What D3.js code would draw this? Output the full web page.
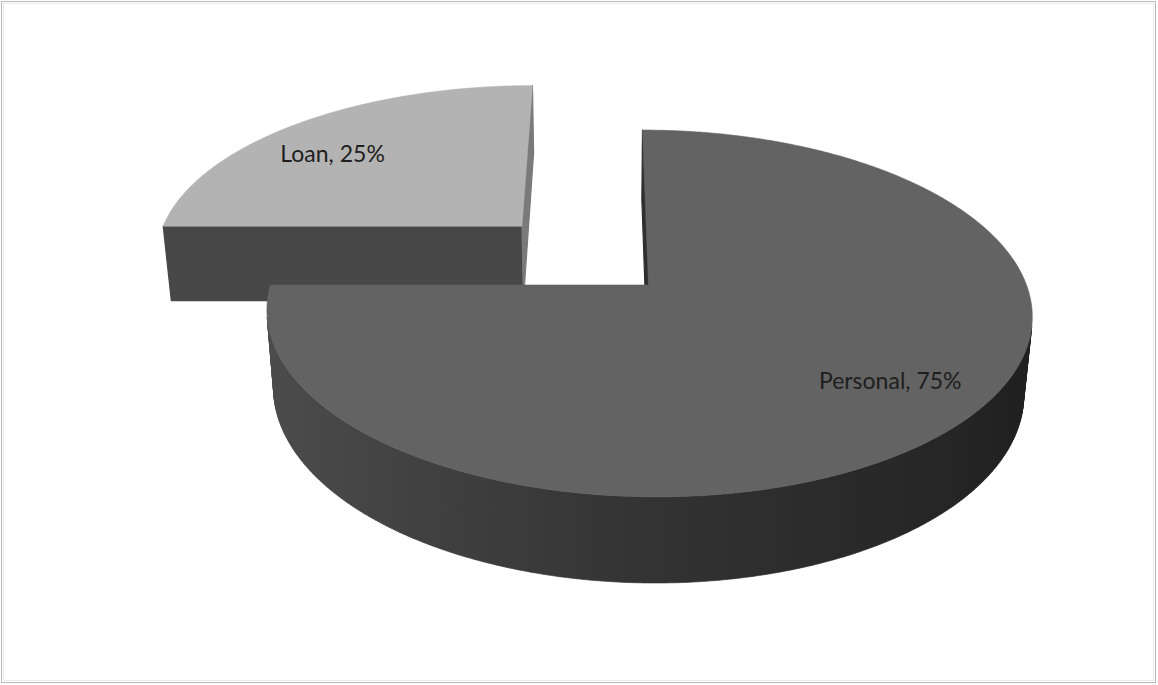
<!DOCTYPE html>
<html>
<head>
<meta charset="utf-8">
<script src="https://cdn.jsdelivr.net/npm/d3@7"></script>
<style>
  html, body { margin: 0; padding: 0; background: #ffffff; }
  svg { display: block; }
</style>
</head>
<body>
<svg id="chart" width="1158" height="685"></svg>
<script>
// Share of accounts by type
const categories = ["Personal", "Loan"];
const values = [75, 25];
const explodedCategory = "Loan";

// Look of the 3-D pie
const topColors = { Personal: "#636363", Loan: "#b3b3b3" };
const startFaceColors = { Personal: "#2f2f2f", Loan: "#474747" };
const endFaceColors = { Personal: "#2f2f2f", Loan: "#7a7a7a" };
const W = 1158, H = 685;

// Simple pinhole camera looking down on a unit-radius disc
const cam = {
  cx: 648.5, cy: 285,         // screen position of the disc centre
  D: 5.68,                    // distance of the camera (in radii)
  phi: Math.asin(0.4735),     // downward pitch
  Cx: -0.118,                 // small sideways offset of the camera
  rx: 378                     // screen half-width of the disc at its centre depth
};
cam.F = cam.rx * cam.D;
cam.cx0 = cam.cx + cam.rx * cam.Cx;
const thickness = 0.2364;
const explodeFraction = 0.49;
const sinP = Math.sin(cam.phi), cosP = Math.cos(cam.phi);
const camPos = [cam.Cx, cam.D * sinP, -cam.D * cosP];

function project(X, Y, Z) {
  const zc = cam.D - Y * sinP + Z * cosP;
  const yc = Y * cosP + Z * sinP;
  return [cam.cx0 + cam.F * (X - cam.Cx) / zc, cam.cy - cam.F * yc / zc];
}

const svg = d3.select("#chart");
const defs = svg.append("defs");

// Horizontal shading of the curved rim
const wallGrad = defs.append("linearGradient")
  .attr("id", "wallGrad").attr("gradientUnits", "userSpaceOnUse")
  .attr("x1", 265).attr("x2", 1035).attr("y1", 0).attr("y2", 0);
[[0, "#4c4c4c"], [0.2, "#414141"], [0.45, "#353535"], [0.7, "#2c2c2c"], [0.9, "#252525"], [1, "#1f1f1f"]]
  .forEach(([o, c]) => wallGrad.append("stop").attr("offset", o).attr("stop-color", c));

// Chart frame
svg.append("rect").attr("x", 1.5).attr("y", 1.5).attr("width", W - 4).attr("height", H - 4)
  .attr("fill", "#ffffff").attr("stroke", "#b9b9b9").attr("stroke-width", 1);
svg.append("rect").attr("x", 3.5).attr("y", 3.5).attr("width", W - 8).attr("height", H - 8)
  .attr("fill", "none").attr("stroke", "#ececec").attr("stroke-width", 1);

const pie = d3.pie().sort(null).startAngle(0).endAngle(2 * Math.PI);
const arcs = pie(values).map((a, i) => {
  const name = categories[i];
  const mid = (a.startAngle + a.endAngle) / 2;
  const e = name === explodedCategory ? explodeFraction : 0;
  return { ...a, name, mid, ox: e * Math.sin(mid), oz: e * Math.cos(mid) };
});

// Far slices first
arcs.sort((a, b) => b.oz - a.oz);

const line = d3.line().curve(d3.curveLinearClosed);
const pathFromPts = pts => line(pts);

function rimPoint(s, t, Y) {
  return project(s.ox + Math.sin(t), Y, s.oz + Math.cos(t));
}

function visible(nx, nz, P) {
  return nx * (camPos[0] - P[0]) + nz * (camPos[2] - P[2]) > 0;
}

arcs.forEach(s => {
  const g = svg.append("g").attr("class", "slice-" + s.name);
  const a0 = s.startAngle, a1 = s.endAngle;
  const steps = Math.max(8, Math.ceil((a1 - a0) / (Math.PI / 360)));

  // Radial side faces
  [[a0, -Math.cos(a0), Math.sin(a0), startFaceColors[s.name]],
   [a1, Math.cos(a1), -Math.sin(a1), endFaceColors[s.name]]].forEach(([t, nx, nz, col]) => {
    const P = [s.ox + 0.5 * Math.sin(t), 0, s.oz + 0.5 * Math.cos(t)];
    if (!visible(nx, nz, P)) return;
    const pts = [
      project(s.ox, 0, s.oz), rimPoint(s, t, 0),
      rimPoint(s, t, -thickness), project(s.ox, -thickness, s.oz)
    ];
    g.append("path").attr("d", pathFromPts(pts))
      .attr("fill", col).attr("stroke", col).attr("stroke-width", 1.2)
      .attr("stroke-linejoin", "round");
  });

  // Curved outer wall, front-facing part only
  let d = "";
  for (let i = 0; i < steps; i++) {
    const t0 = a0 + (a1 - a0) * i / steps, t1 = a0 + (a1 - a0) * (i + 1) / steps;
    const tm = (t0 + t1) / 2;
    const P = [s.ox + Math.sin(tm), 0, s.oz + Math.cos(tm)];
    if (!visible(Math.sin(tm), Math.cos(tm), P)) continue;
    d += pathFromPts([rimPoint(s, t0, 0), rimPoint(s, t1, 0), rimPoint(s, t1, -thickness), rimPoint(s, t0, -thickness)]);
  }
  if (d) g.append("path").attr("d", d).attr("fill", "url(#wallGrad)")
    .attr("stroke", "url(#wallGrad)").attr("stroke-width", 0.6);

  // Top face
  const top = [project(s.ox, 0, s.oz)];
  for (let i = 0; i <= steps; i++) top.push(rimPoint(s, a0 + (a1 - a0) * i / steps, 0));
  g.append("path").attr("d", pathFromPts(top))
    .attr("fill", topColors[s.name]).attr("stroke", topColors[s.name]).attr("stroke-width", 0.6);
});

// Data labels on the top faces
const labelRadius = 0.76, labelTurn = -5 * Math.PI / 180;
const fmt = d3.format("d");
arcs.forEach(s => {
  const t = s.mid + labelTurn;
  const [x, y] = project(s.ox + labelRadius * Math.sin(t), 0, s.oz + labelRadius * Math.cos(t));
  svg.append("text")
    .attr("x", x).attr("y", y)
    .attr("text-anchor", "middle").attr("dominant-baseline", "central")
    .attr("font-family", "Lato, 'Open Sans', sans-serif").attr("font-size", 23)
    .attr("fill", "#1e1e1e")
    .text(`${s.name}, ${fmt(s.value)}%`);
});
</script>
</body>
</html>
